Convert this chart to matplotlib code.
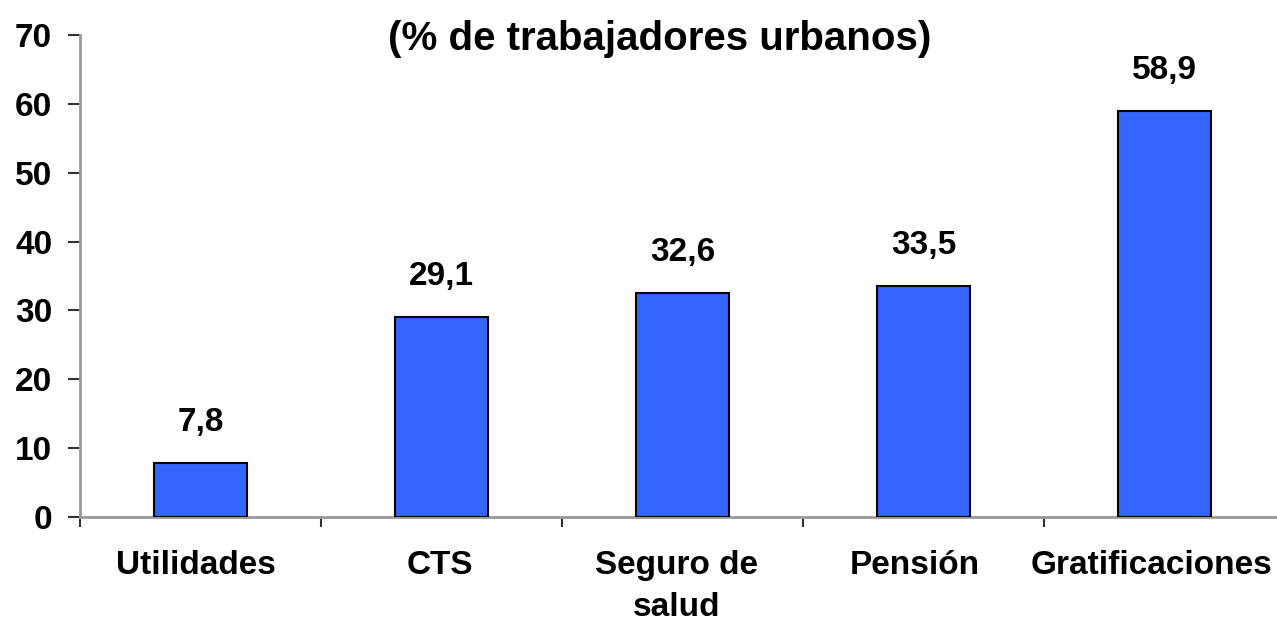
import numpy as np
import matplotlib
matplotlib.use("Agg")
import matplotlib.pyplot as plt
from matplotlib.ticker import FixedLocator

plt.rcParams['font.family'] = ['Liberation Sans', 'DejaVu Sans']
plt.rcParams['font.weight'] = 'bold'

# datos
categorias = ["Utilidades", "CTS", "Seguro de\nsalud", "Pensión", "Gratificaciones"]
valores = [7.8, 29.1, 32.6, 33.5, 58.9]
etiquetas = ["7,8", "29,1", "32,6", "33,5", "58,9"]
titulo = "(% de trabajadores urbanos)"

fig = plt.figure(figsize=(12.77, 6.22), dpi=100)
ax = fig.add_axes([80/1277, 1 - 517/622, 1205/1277, (517 - 35)/622])

x = np.arange(len(categorias))
ax.bar(x, valores, width=0.39, color="#3366FF", edgecolor="black", linewidth=1.5, zorder=3)

for xi, v, lab in zip(x, valores, etiquetas):
    ax.annotate(lab, (xi, v), xytext=(0, 18), textcoords="offset points",
                ha="center", va="bottom", fontsize=24, fontweight="bold")

ax.set_xlim(-0.5, len(categorias) - 0.5)
ax.set_ylim(0, 70)
ax.set_yticks(range(0, 71, 10))
# etiquetas un poco desplazadas a la izquierda, como en el original
desplaz = np.array([-0.02, -0.005, -0.025, -0.035, -0.055])
ax.set_xticks(x + desplaz)
ax.set_xticklabels(categorias, fontsize=24, fontweight="bold", linespacing=1.45)
ax.xaxis.set_minor_locator(FixedLocator(np.arange(-0.5, len(categorias), 1.0)))
ax.tick_params(axis="x", which="major", length=0, pad=24)
ax.tick_params(axis="x", which="minor", length=7, width=1.5, color="#333333", direction="out")
ax.tick_params(axis="y", length=9, width=1.5, color="#333333", pad=11, labelsize=24)
for lab in ax.get_yticklabels():
    lab.set_fontweight("bold")

for s in ["top", "right"]:
    ax.spines[s].set_visible(False)
for s in ["left", "bottom"]:
    ax.spines[s].set_color("#999999")
    ax.spines[s].set_linewidth(2)

fig.text(660/1277, 1 - 39/622, titulo, ha="center", va="center", fontsize=29, fontweight="bold")

fig.savefig("out.png", dpi=100)
